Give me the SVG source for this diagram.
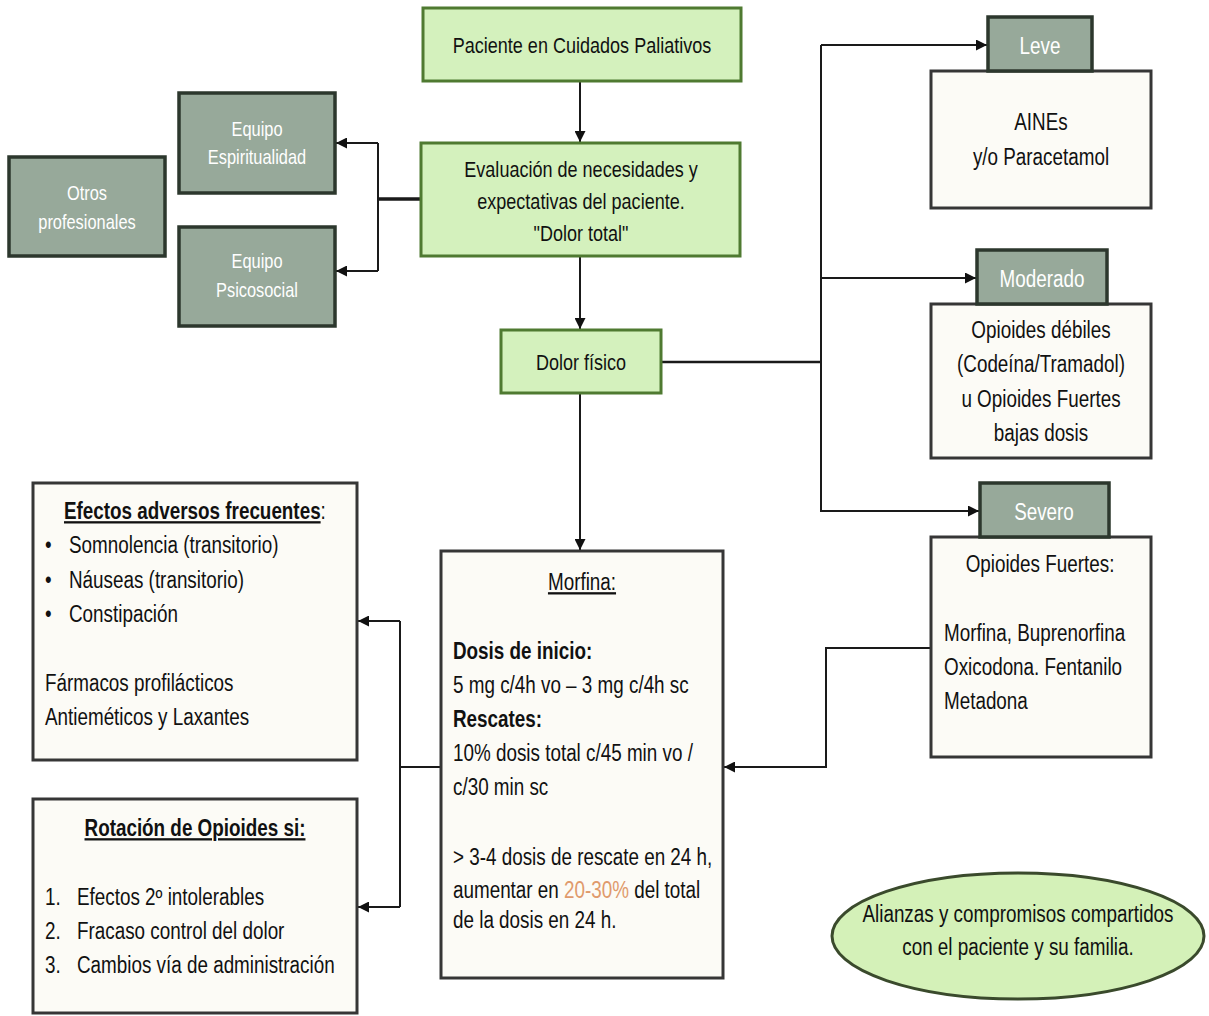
<svg xmlns="http://www.w3.org/2000/svg" width="1209" height="1016" viewBox="0 0 1209 1016">
  <style>
    text { font-family: "Liberation Sans", Arial, sans-serif; font-size: 23px; fill: #111;
           transform-box: fill-box; transform-origin: 0 50%; transform: scaleX(0.82); }
    .c { text-anchor: middle; transform-origin: 50% 50%; }
    .g { font-size: 22px; }
    .w { fill: #ffffff; }
    .s { font-size: 20px; }
    .b { font-weight: bold; }
    .u { text-decoration: underline; }
    .green { fill: #d4f1bd; stroke: #4f7a31; stroke-width: 3; }
    .gray { fill: #97a99a; stroke: #2c372d; stroke-width: 3.5; }
    .cream { fill: #fcfbf6; stroke: #363636; stroke-width: 3; }
    .ln { fill: none; stroke: #1a1a1a; stroke-width: 2; }
    .thick { fill: none; stroke: #1a1a1a; stroke-width: 3.5; }
    .arr { marker-end: url(#ah); }
  </style>
  <defs>
    <marker id="ah" viewBox="0 0 10 10" refX="10" refY="5" markerWidth="11" markerHeight="11" markerUnits="userSpaceOnUse" orient="auto">
      <path d="M0,0 L10,5 L0,10 z" fill="#111"/>
    </marker>
  </defs>
  <rect width="1209" height="1016" fill="#ffffff"/>

  <!-- connectors -->
  <g id="connectors">
    <path class="ln arr" d="M580,81 V142"/>
    <path class="ln arr" d="M580,256 V329"/>
    <path class="ln arr" d="M580,393 V550"/>
    <path class="thick" d="M421,199 H378"/>
    <path class="ln" d="M378,143 V271"/>
    <path class="ln arr" d="M378,143 H336"/>
    <path class="ln arr" d="M378,271 H336"/>
    <path class="thick" d="M661,362 H821" style="stroke-width:2.5"/>
    <path class="ln" d="M821,45 V512"/>
    <path class="ln arr" d="M821,45 H987"/>
    <path class="ln arr" d="M821,278 H976"/>
    <path class="ln arr" d="M821,511 H979"/>
    <path class="ln arr" d="M931,648 H826 V767 H724"/>
    <path class="ln" d="M441,767 H400"/>
    <path class="ln" d="M400,621 V907"/>
    <path class="ln arr" d="M400,621 H358"/>
    <path class="ln arr" d="M400,907 H358"/>
  </g>

  <g id="paciente">
    <rect class="green" x="423" y="8" width="318" height="73"/>
    <text class="c g" x="582" y="53">Paciente en Cuidados Paliativos</text>
  </g>

  <g id="evaluacion">
    <rect class="green" x="421" y="143" width="319" height="113"/>
    <text class="c g" x="581" y="177">Evaluación de necesidades y</text>
    <text class="c g" x="581" y="209">expectativas del paciente.</text>
    <text class="c g" x="581" y="241">"Dolor total"</text>
  </g>

  <g id="dolor-fisico">
    <rect class="green" x="501" y="330" width="160" height="63"/>
    <text class="c g" x="581" y="370">Dolor físico</text>
  </g>

  <g id="equipo-espiritualidad">
    <rect class="gray" x="179" y="93" width="156" height="100"/>
    <text class="c w s" x="257" y="136">Equipo</text>
    <text class="c w s" x="257" y="164">Espiritualidad</text>
  </g>

  <g id="equipo-psicosocial">
    <rect class="gray" x="179" y="227" width="156" height="99"/>
    <text class="c w s" x="257" y="268">Equipo</text>
    <text class="c w s" x="257" y="297">Psicosocial</text>
  </g>

  <g id="otros-profesionales">
    <rect class="gray" x="9" y="157" width="156" height="99"/>
    <text class="c w s" x="87" y="200">Otros</text>
    <text class="c w s" x="87" y="229">profesionales</text>
  </g>

  <g id="leve">
    <rect class="cream" x="931" y="71" width="220" height="137"/>
    <rect class="gray" x="988" y="17" width="104" height="54"/>
    <text class="c w" x="1040" y="54">Leve</text>
    <text class="c" x="1041" y="130">AINEs</text>
    <text class="c" x="1041" y="165">y/o Paracetamol</text>
  </g>

  <g id="moderado">
    <rect class="cream" x="931" y="304" width="220" height="154"/>
    <rect class="gray" x="977" y="250" width="130" height="54"/>
    <text class="c w" x="1042" y="287">Moderado</text>
    <text class="c" x="1041" y="338">Opioides débiles</text>
    <text class="c" x="1041" y="372">(Codeína/Tramadol)</text>
    <text class="c" x="1041" y="407">u Opioides Fuertes</text>
    <text class="c" x="1041" y="441">bajas dosis</text>
  </g>

  <g id="severo">
    <rect class="cream" x="931" y="537" width="220" height="220"/>
    <rect class="gray" x="980" y="483" width="129" height="54"/>
    <text class="c w" x="1044" y="520">Severo</text>
    <text class="c" x="1040" y="572">Opioides Fuertes:</text>
    <text x="944" y="641">Morfina, Buprenorfina</text>
    <text x="944" y="675">Oxicodona. Fentanilo</text>
    <text x="944" y="709">Metadona</text>
  </g>

  <g id="morfina">
    <rect class="cream" x="441" y="551" width="282" height="427"/>
    <text class="c u" x="582" y="590">Morfina:</text>
    <text class="b" x="453" y="659">Dosis de inicio:</text>
    <text x="453" y="693">5 mg c/4h vo – 3 mg c/4h sc</text>
    <text class="b" x="453" y="727">Rescates:</text>
    <text x="453" y="761">10% dosis total c/45 min vo /</text>
    <text x="453" y="795">c/30 min sc</text>
    <text x="453" y="865">&gt; 3-4 dosis de rescate en 24 h,</text>
    <text x="453" y="898">aumentar en <tspan fill="#e09a6c">20-30%</tspan> del total</text>
    <text x="453" y="928">de la dosis en 24 h.</text>
  </g>

  <g id="efectos-adversos">
    <rect class="cream" x="33" y="483" width="324" height="277"/>
    <text x="64" y="519"><tspan class="b u">Efectos adversos frecuentes</tspan>:</text>
    <text x="45" y="553">•</text>
    <text x="69" y="553">Somnolencia (transitorio)</text>
    <text x="45" y="588">•</text>
    <text x="69" y="588">Náuseas (transitorio)</text>
    <text x="45" y="622">•</text>
    <text x="69" y="622">Constipación</text>
    <text x="45" y="691">Fármacos profilácticos</text>
    <text x="45" y="725">Antieméticos y Laxantes</text>
  </g>

  <g id="rotacion-opioides">
    <rect class="cream" x="33" y="799" width="324" height="214"/>
    <text class="c b u" x="195" y="836">Rotación de Opioides si:</text>
    <text x="45" y="905">1.</text>
    <text x="77" y="905">Efectos 2º intolerables</text>
    <text x="45" y="939">2.</text>
    <text x="77" y="939">Fracaso control del dolor</text>
    <text x="45" y="973">3.</text>
    <text x="77" y="973">Cambios vía de administración</text>
  </g>

  <g id="alianzas">
    <ellipse cx="1018" cy="936" rx="186" ry="63" fill="#d4f1b8" stroke="#3a4a2c" stroke-width="3"/>
    <text class="c" x="1018" y="922">Alianzas y compromisos compartidos</text>
    <text class="c" x="1018" y="955">con el paciente y su familia.</text>
  </g>
</svg>
